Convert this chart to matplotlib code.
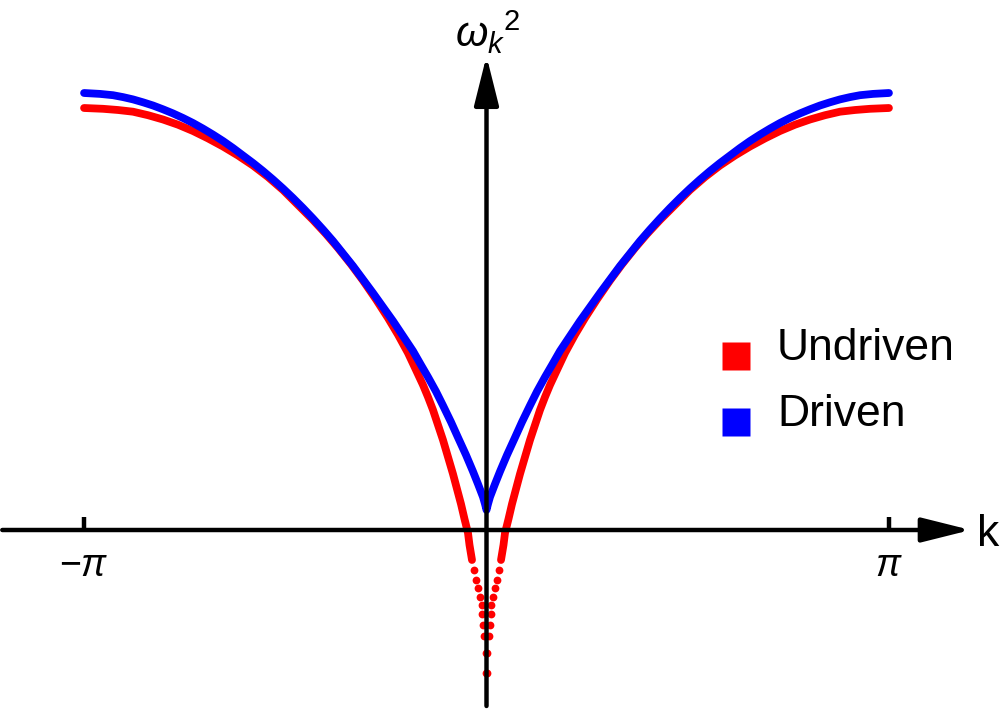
import matplotlib
matplotlib.use("Agg")
import matplotlib.pyplot as plt
import numpy as np

plt.rcParams['font.family'] = ['Liberation Sans', 'DejaVu Sans']
plt.rcParams['mathtext.fontset'] = 'custom'
plt.rcParams['mathtext.rm'] = 'Liberation Sans'
plt.rcParams['mathtext.it'] = 'Liberation Sans:italic'

# ---- data (right half, k >= 0; both curves are symmetric in k) ----
# undriven: the first points are the sparse, separately visible dots near k = 0
k_undriven = [0.0039, 0.0078, 0.0195, 0.0273, 0.0351, 0.0390, 0.0507, 0.0664, 0.0820, 0.0976,
              0.1132, 0.1327, 0.1444, 0.1717, 0.1991, 0.2303, 0.2615, 0.3005, 0.3396,
              0.3786, 0.4176, 0.4567, 0.4957, 0.5504, 0.6128, 0.6909, 0.7689, 0.8626,
              0.9641, 1.0578, 1.1593, 1.2529, 1.3544, 1.4715, 1.5886, 1.7057, 1.8228,
              1.9399, 2.0570, 2.1741, 2.2912, 2.4083, 2.5254, 2.6425, 2.7596, 2.8767,
              2.9938, 3.1416]
w2_undriven = [-1.43, -1.23, -1.06, -0.95, -0.84, -0.75, -0.67, -0.58, -0.50, -0.40,
               -0.30, -0.15, -0.03, 0.11, 0.26, 0.41, 0.56, 0.73, 0.90,
               1.05, 1.20, 1.33, 1.45, 1.60, 1.77, 1.953, 2.12, 2.306,
               2.495, 2.657, 2.82, 2.96, 3.10, 3.25, 3.40, 3.53, 3.645,
               3.745, 3.835, 3.916, 3.99, 4.053, 4.105, 4.148, 4.183, 4.20,
               4.212, 4.22]

k_driven = [0.0, 0.0117, 0.0273, 0.0664, 0.1054, 0.1600, 0.2225, 0.2771, 0.3396, 0.3942,
            0.4567, 0.5113, 0.5738, 0.6518, 0.7299, 0.8080, 0.8860, 0.9641, 1.0422,
            1.1202, 1.1983, 1.2763, 1.3544, 1.4325, 1.5105, 1.5886, 1.6667, 1.7447,
            1.8228, 1.9009, 1.9789, 2.0570, 2.1350, 2.2131, 2.2912, 2.3692, 2.4473,
            2.5254, 2.6034, 2.6815, 2.7596, 2.8376, 2.9157, 3.0172, 3.1416]
w2_driven = [0.20, 0.26, 0.33, 0.46, 0.585, 0.75, 0.925, 1.08, 1.245, 1.385,
             1.53, 1.65, 1.79, 1.94, 2.09, 2.23, 2.37, 2.505, 2.64,
             2.765, 2.89, 3.005, 3.115, 3.22, 3.32, 3.415, 3.505, 3.59,
             3.67, 3.745, 3.82, 3.89, 3.954, 4.014, 4.07, 4.12, 4.166,
             4.207, 4.245, 4.277, 4.306, 4.329, 4.348, 4.361, 4.37]

labels = ["Undriven", "Driven"]
colors = ["#ff0000", "#0000ff"]
tick_labels = [r"$-\pi$", r"$\pi$"]

# ---- figure ----
fig = plt.figure(figsize=(10, 7.09), dpi=100)
ax = fig.add_axes([0, 0, 1, 1])
ax.set_xlim(-486.5 / 128.1, (1000 - 486.5) / 128.1)
ax.set_ylim((530 - 709) / 100, 530 / 100)
ax.axis('off')

lw = 5.6
n_dots = 10  # sparse dots of the undriven curve near k = 0

kr = np.array(k_undriven)
yr = np.array(w2_undriven)
for s in (1, -1):
    ax.plot(s * kr[n_dots:], yr[n_dots:], color=colors[0], lw=lw,
            solid_capstyle='round', solid_joinstyle='round', zorder=2)
    ax.plot(s * kr[:n_dots], yr[:n_dots], 'o', color=colors[0], ms=5.6,
            mec='none', zorder=2)

kb = np.array(k_driven)
yb = np.array(w2_driven)
kb_full = np.concatenate([-kb[::-1], kb[1:]])
yb_full = np.concatenate([yb[::-1], yb[1:]])
ax.plot(kb_full, yb_full, color=colors[1], lw=lw, solid_capstyle='round',
        solid_joinstyle='round', zorder=3)

# ---- axes with arrows ----
arrow_kw = dict(arrowstyle='-|>,head_length=3.0,head_width=0.75', lw=3.2,
                color='k', mutation_scale=10, shrinkA=0, shrinkB=0)
ax.annotate('', xy=(3.78, 0), xytext=(-3.78, 0), arrowprops=arrow_kw, zorder=6)
ax.annotate('', xy=(0, 4.74), xytext=(0, -1.76), arrowprops=arrow_kw, zorder=6)

for xt, lab in zip([-np.pi, np.pi], tick_labels):
    ax.plot([xt, xt], [0, 0.13], color='k', lw=3.2, solid_capstyle='butt', zorder=6)
    ax.text(xt, -0.36, lab, ha='center', va='center', fontsize=27)

ax.text((988 - 486.5) / 128.1, -0.05, 'k', ha='center', va='center', fontsize=32)
ax.text(0.01, 4.98, r'${\omega_k}^2$', ha='center', va='center', fontsize=30)

# ---- legend ----
leg_x = (736 - 486.5) / 128.1
txt_x = (777 - 486.5) / 128.1
for i, (lab, c) in enumerate(zip(labels, colors)):
    ax.plot([leg_x], [1.74 - 0.66 * i], marker='s', ms=20, color=c, mec='none', ls='')
    ax.text(txt_x, 1.70 - 0.66 * i, lab, ha='left', va='baseline', fontsize=32)

fig.savefig('out.png', dpi=100)
